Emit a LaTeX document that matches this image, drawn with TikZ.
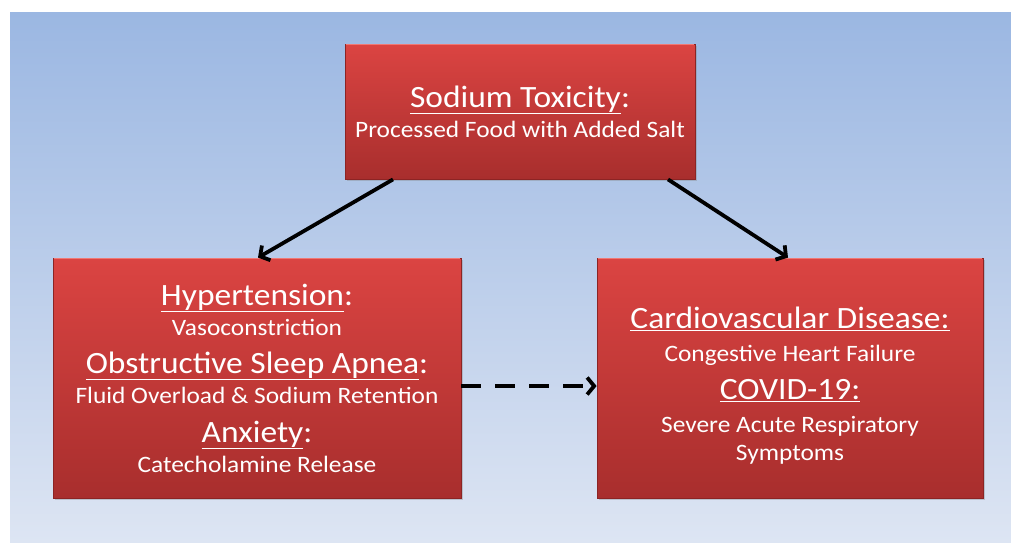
\documentclass[tikz,border=0pt]{standalone}
\usepackage{fontspec}
\setmainfont[FakeStretch=1.08]{Carlito}
\usetikzlibrary{arrows.meta,shadows,calc}
\definecolor{bgtop}{RGB}{155,183,226}
\definecolor{bgbot}{RGB}{221,229,243}
\definecolor{boxtop}{RGB}{219,68,66}
\definecolor{boxbot}{RGB}{168,46,45}
\definecolor{boxedge}{RGB}{140,36,36}
\definecolor{boxhi}{RGB}{240,120,115}
\newcommand{\hd}[1]{{\fontsize{31}{30}\selectfont #1}}
\newcommand{\ulx}[1]{\underline{#1}}
\tikzset{
  redbox/.style={rectangle, top color=boxtop, bottom color=boxbot, draw=boxedge, line width=0.8pt,
    drop shadow={opacity=0.35, shadow xshift=2pt, shadow yshift=-2pt},
    text=white, align=center, inner sep=0pt, font=\fontsize{23.5}{30}\selectfont},
  hiline/.style={draw=boxhi, line width=1.2pt},
  arr/.style={line width=3.8pt, -{Straight Barb[length=7pt,width=17pt]}},
}
\begin{document}
\begin{tikzpicture}[x=1pt,y=-1pt]
\useasboundingbox (0,0) rectangle (1011,542);
\fill[white] (0,0) rectangle (1011,542);
\shade[top color=bgtop, bottom color=bgbot] (10,12) rectangle (1011,542);

\node[redbox, minimum width=350pt, minimum height=135pt] (top) at (520,111.5)
  {\hd{\ulx{Sodium Toxicity}:}\\ Processed Food with Added Salt};

\node[redbox, minimum width=408pt, minimum height=240pt] (left) at (257,378)
  {\hd{\ulx{Hypertension}:}\\ Vasoconstriction\\[8pt]
   \hd{\ulx{Obstructive Sleep Apnea}:}\\ Fluid Overload \& Sodium Retention\\[9pt]
   \hd{\ulx{Anxiety}:}\\ Catecholamine Release};

\node[redbox, minimum width=386pt, minimum height=240pt] (right) at (790,378)
  {\mbox{}\\[6pt]\hd{\ulx{Cardiovascular Disease:}}\\[3pt] Congestive Heart Failure\\[8pt]
   \hd{\ulx{COVID-19:}}\\[3pt] Severe Acute Respiratory\\[-2pt] Symptoms};

\foreach \b in {top,left,right}
  \draw[hiline] ([xshift=1pt,yshift=-1pt]\b.north west) -- ([xshift=-1pt,yshift=-1pt]\b.north east);

\draw[arr] ([xshift=-127pt]top.south) -- ([xshift=1pt]left.north);
\draw[arr] ([xshift=148pt]top.south) -- ([xshift=-2pt]right.north);
\draw[arr, dash pattern=on 20pt off 14pt] ([yshift=-8pt]left.east) -- ([yshift=-8pt]right.west);
\end{tikzpicture}
\end{document}
